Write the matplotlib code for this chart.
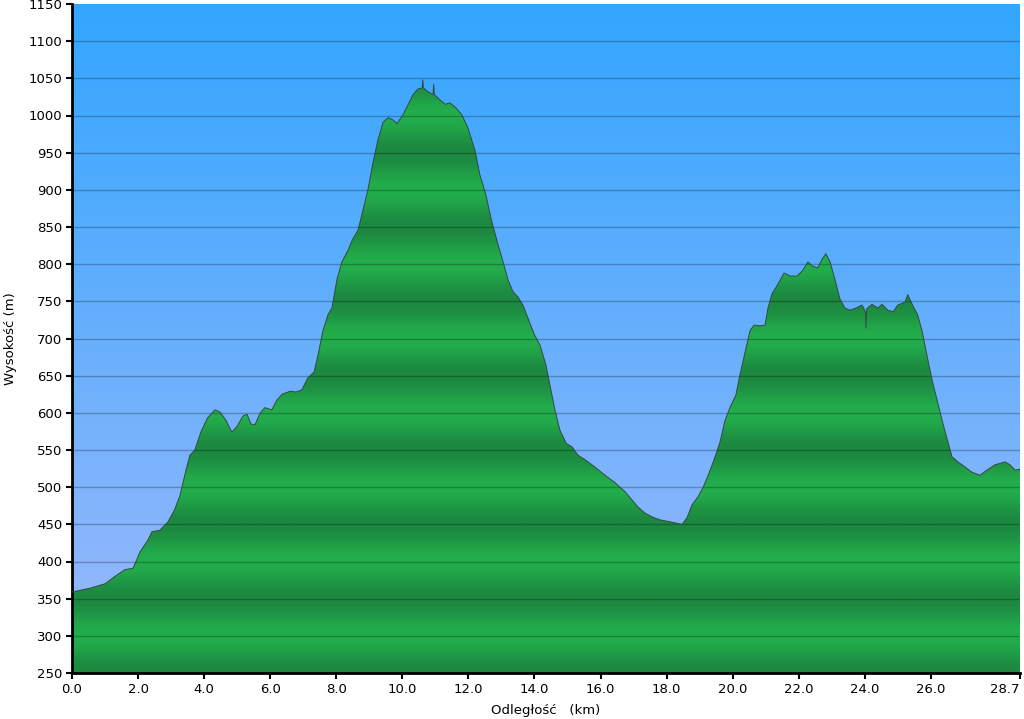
import numpy as np
import matplotlib
matplotlib.use("Agg")
import matplotlib.pyplot as plt
from matplotlib.colors import LinearSegmentedColormap
from matplotlib.path import Path
from matplotlib.patches import PathPatch

km = [0.0, 0.54, 1.0, 1.3, 1.6, 1.85, 2.06, 2.3, 2.42, 2.66, 2.9, 3.1, 3.27, 3.45, 3.57, 3.72,
      3.9, 4.1, 4.33, 4.48, 4.66, 4.84, 5.0, 5.18, 5.3, 5.42, 5.54, 5.7, 5.84, 6.05, 6.2, 6.36,
      6.6, 6.78, 6.96, 7.14, 7.33, 7.45, 7.6, 7.75, 7.87, 8.02, 8.17, 8.36, 8.48, 8.66, 8.81,
      8.96, 9.11, 9.26, 9.42, 9.57, 9.72, 9.84, 10.02, 10.17, 10.32, 10.48, 10.6, 10.62, 10.64,
      10.78, 10.93, 10.95, 10.97, 11.14, 11.3, 11.44, 11.63, 11.8, 11.99, 12.2, 12.35, 12.53,
      12.7, 12.9, 13.05, 13.2, 13.35, 13.5, 13.65, 13.8, 14.0, 14.17, 14.35, 14.47, 14.62,
      14.77, 14.96, 15.14, 15.32, 15.53, 15.83, 16.14, 16.44, 16.74, 16.95, 17.14, 17.35,
      17.56, 17.8, 18.04, 18.26, 18.47, 18.62, 18.77, 18.95, 19.1, 19.26, 19.44, 19.62, 19.77,
      19.92, 20.1, 20.22, 20.38, 20.53, 20.65, 20.83, 20.98, 21.07, 21.19, 21.37, 21.56, 21.74,
      21.95, 22.13, 22.28, 22.43, 22.58, 22.7, 22.82, 22.95, 23.1, 23.25, 23.4, 23.55, 23.73,
      23.92, 24.02, 24.04, 24.06, 24.22, 24.4, 24.52, 24.7, 24.86, 25.0, 25.22, 25.3, 25.46,
      25.6, 25.73, 25.88, 26.04, 26.19, 26.34, 26.5, 26.64, 26.82, 27.04, 27.25, 27.49, 27.7,
      27.94, 28.25, 28.4, 28.55, 28.7]
elev = [359, 364, 370, 380, 389, 391, 413, 429, 440, 442, 453, 469, 489, 523, 543, 550,
        574, 593, 604, 601, 590, 574, 582, 596, 598, 585, 584, 600, 607, 604, 617, 625,
        629, 628, 631, 647, 655, 678, 711, 732, 741, 779, 803, 819, 832, 846, 873,
        900, 936, 967, 991, 997, 994, 989, 1001, 1014, 1028, 1036, 1037, 1048, 1037,
        1032, 1028, 1042, 1028, 1021, 1015, 1017, 1010, 1001, 983, 953, 920, 893,
        859, 826, 803, 779, 763, 756, 745, 728, 705, 691, 664, 637, 604,
        577, 559, 554, 543, 537, 527, 516, 506, 494, 483, 473, 465,
        460, 456, 454, 452, 450, 459, 476, 487, 499, 516, 537, 561, 590,
        607, 624, 651, 682, 711, 718, 717, 718, 741, 760, 773, 788, 784,
        784, 792, 803, 797, 795, 806, 814, 803, 779, 753, 741, 738, 741,
        745, 736, 714, 740, 746, 741, 746, 738, 736, 745, 749, 759, 744,
        732, 711, 678, 644, 617, 590, 564, 541, 534, 527, 520, 516, 523,
        530, 534, 530, 523, 524]

x_ticks = [0, 2, 4, 6, 8, 10, 12, 14, 16, 18, 20, 22, 24, 26, 28.7]
x_tick_labels = ["0.0", "2.0", "4.0", "6.0", "8.0", "10.0", "12.0", "14.0", "16.0",
                 "18.0", "20.0", "22.0", "24.0", "26.0", "28.7"]
y_ticks = list(range(250, 1151, 50))

XMIN, XMAX, YMIN, YMAX = 0, 28.7, 250, 1150

fig = plt.figure(figsize=(10.24, 7.19), dpi=100)
ax = fig.add_axes([72/1024, 1-673/719, (1020-72)/1024, (673-4)/719])
ax.set_xlim(XMIN, XMAX)
ax.set_ylim(YMIN, YMAX)

# background gradient
bg = LinearSegmentedColormap.from_list("bg", ["#9cb9fb", "#33a6ff"])
grad = np.linspace(0, 1, 256).reshape(-1, 1)
ax.imshow(grad, cmap=bg, aspect="auto", origin="lower",
          extent=[XMIN, XMAX, YMIN, YMAX], zorder=0)

# green banded fill
yy = np.linspace(YMIN, YMAX, 1200)
t = (np.cos(2*np.pi*(yy-350)/100)+1)/2
gcm = LinearSegmentedColormap.from_list("gr", ["#23ae4c", "#1c8840"])
im = ax.imshow(t.reshape(-1, 1), cmap=gcm, aspect="auto", origin="lower",
               extent=[XMIN, XMAX, YMIN, YMAX], zorder=1, vmin=0, vmax=1)
verts = [(km[0], YMIN)] + list(zip(km, elev)) + [(km[-1], YMIN), (km[0], YMIN)]
codes = [Path.MOVETO] + [Path.LINETO]*(len(verts)-2) + [Path.CLOSEPOLY]
patch = PathPatch(Path(verts, codes), facecolor="none", edgecolor="none", transform=ax.transData)
ax.add_patch(patch)
im.set_clip_path(patch)

ax.plot(km, elev, color="#34493f", lw=0.7, zorder=3)

for y in y_ticks[1:-1]:
    ax.axhline(y, color="black", alpha=0.25, lw=1.0, zorder=2)

ax.set_xticks(x_ticks)
ax.set_xticklabels(x_tick_labels, fontsize=9.5)
ax.get_xticklabels()[-1].set_horizontalalignment("right")
ax.set_yticks(y_ticks)
ax.set_yticklabels([str(v) for v in y_ticks], fontsize=9.5)
ax.tick_params(direction="out", length=4, width=1.5, colors="black", pad=3)
for s in ["top", "right"]:
    ax.spines[s].set_visible(False)
for s in ["left", "bottom"]:
    ax.spines[s].set_linewidth(2)
ax.set_xlabel("Odległość   (km)", fontsize=9.5, labelpad=6)
ax.set_ylabel("Wysokość (m)", fontsize=9.5, labelpad=8)

fig.savefig("out.png", dpi=100)
